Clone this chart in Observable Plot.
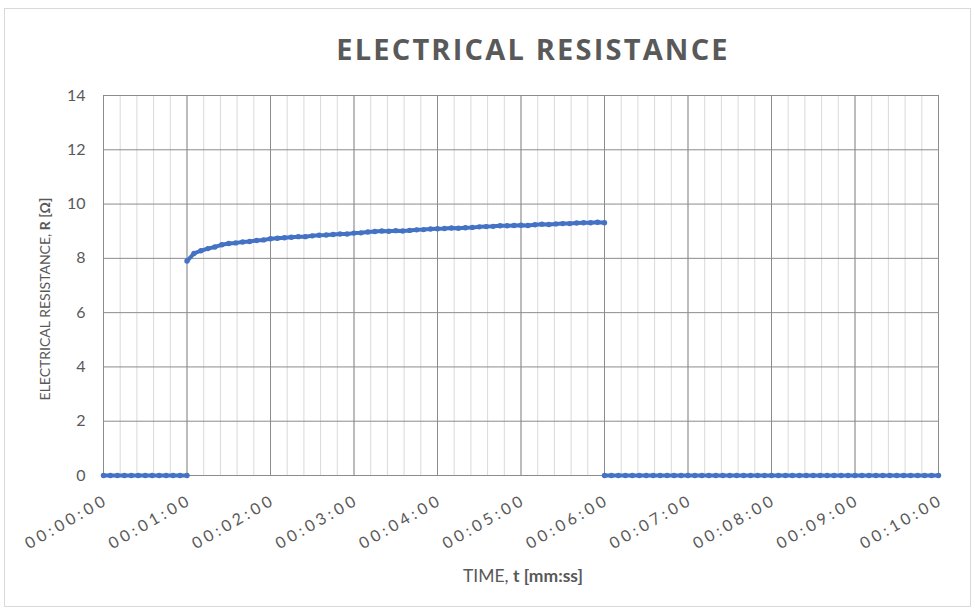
<!DOCTYPE html>
<html>
<head>
<meta charset="utf-8">
<script src="https://cdn.jsdelivr.net/npm/d3@7"></script>
<script src="https://cdn.jsdelivr.net/npm/@observablehq/plot@0.6"></script>
<style>
  body { margin: 0; background: #fff; }
  #wrap { position: relative; width: 975px; height: 608px; overflow: hidden; }
</style>
</head>
<body>
<div id="wrap"></div>
<script>
// ---- data (time in seconds, resistance in ohms) ----
const titleText = "ELECTRICAL RESISTANCE";
const yLabelNormal = "ELECTRICAL RESISTANCE, ";
const yLabelBold = "R [Ω]";
const xLabelNormal = "TIME, ";
const xLabelBold = "t [mm:ss]";

const xTickValues = [0, 60, 120, 180, 240, 300, 360, 420, 480, 540, 600];
const xTickLabels = ["00:00:00", "00:01:00", "00:02:00", "00:03:00", "00:04:00", "00:05:00",
                     "00:06:00", "00:07:00", "00:08:00", "00:09:00", "00:10:00"];
const yTickValues = [0, 2, 4, 6, 8, 10, 12, 14];

const zeroBeforeTimes = [0, 5, 10, 15, 20, 25, 30, 35, 40, 45, 50, 55, 60];
const zeroBeforeValues = [0, 0, 0, 0, 0, 0, 0, 0, 0, 0, 0, 0, 0];

const riseTimes = [60, 65, 70, 75, 80, 85, 90, 95, 100, 105,
                   110, 115, 120, 125, 130, 135, 140, 145, 150, 155,
                   160, 165, 170, 175, 180, 185, 190, 195, 200, 205,
                   210, 215, 220, 225, 230, 235, 240, 245, 250, 255,
                   260, 265, 270, 275, 280, 285, 290, 295, 300, 305,
                   310, 315, 320, 325, 330, 335, 340, 345, 350, 355,
                   360];
const riseValues = [7.90, 8.18, 8.28, 8.36, 8.42, 8.50, 8.55, 8.57, 8.60, 8.62,
                    8.66, 8.68, 8.72, 8.74, 8.76, 8.78, 8.80, 8.80, 8.83, 8.85,
                    8.86, 8.88, 8.90, 8.90, 8.93, 8.94, 8.97, 8.99, 9.01, 9.00,
                    9.02, 9.01, 9.03, 9.05, 9.06, 9.08, 9.09, 9.10, 9.12, 9.11,
                    9.13, 9.14, 9.16, 9.17, 9.18, 9.20, 9.20, 9.21, 9.22, 9.21,
                    9.24, 9.26, 9.25, 9.27, 9.28, 9.28, 9.30, 9.31, 9.31, 9.33,
                    9.31];

const zeroAfterTimes = [360, 365, 370, 375, 380, 385, 390, 395, 400, 405,
                        410, 415, 420, 425, 430, 435, 440, 445, 450, 455,
                        460, 465, 470, 475, 480, 485, 490, 495, 500, 505,
                        510, 515, 520, 525, 530, 535, 540, 545, 550, 555,
                        560, 565, 570, 575, 580, 585, 590, 595, 600];
const zeroAfterValues = [0, 0, 0, 0, 0, 0, 0, 0, 0, 0,
                         0, 0, 0, 0, 0, 0, 0, 0, 0, 0,
                         0, 0, 0, 0, 0, 0, 0, 0, 0, 0,
                         0, 0, 0, 0, 0, 0, 0, 0, 0, 0,
                         0, 0, 0, 0, 0, 0, 0, 0, 0];

// ---- build table ----
const data = [];
zeroBeforeTimes.forEach((t, i) => data.push({t, r: zeroBeforeValues[i], seg: "a"}));
riseTimes.forEach((t, i) => data.push({t, r: riseValues[i], seg: "b"}));
zeroAfterTimes.forEach((t, i) => data.push({t, r: zeroAfterValues[i], seg: "c"}));

const minorTicks = d3.range(0, 601, 12);
const blue = "#4472C4";
const textColor = "#595959";
const tickLetterSpacing = 3.7;

const chart = Plot.plot({
  width: 975,
  height: 608,
  marginLeft: 103,
  marginRight: 37,
  marginTop: 95,
  marginBottom: 133,
  style: { fontFamily: "Lato, sans-serif", fontSize: "16px", color: textColor, background: "white", overflow: "visible" },
  x: { domain: [0, 600], axis: null },
  y: { domain: [0, 14], ticks: yTickValues, tickSize: 0, tickPadding: 18, label: null, tickFormat: d => String(d) },
  marks: [
    Plot.ruleX(minorTicks, { x: d => d, stroke: "#d9d9d9", strokeWidth: 1 }),
    Plot.ruleX(xTickValues, { x: d => d, stroke: "#8c8c8c", strokeWidth: 1 }),
    Plot.ruleY(yTickValues, { y: d => d, stroke: "#8c8c8c", strokeWidth: 1 }),
    Plot.line(data, { x: "t", y: "r", z: "seg", stroke: blue, strokeWidth: 4 }),
    Plot.dot(data, { x: "t", y: "r", r: 2.7, fill: blue, stroke: "none" }),
    Plot.text(xTickValues, {
      x: d => d,
      text: (d, i) => xTickLabels[i],
      frameAnchor: "bottom",
      rotate: -30,
      textAnchor: "end",
      lineAnchor: "middle",
      dx: 0 + tickLetterSpacing,
      dy: 23,
      fontSize: 16,
      fill: textColor
    })
  ]
});

document.getElementById("wrap").appendChild(chart);

const svg = d3.select(chart);
svg.selectAll("text")
  .filter(function () { return /^\d\d:\d\d:\d\d$/.test(this.textContent); })
  .attr("letter-spacing", tickLetterSpacing)
  .style("letter-spacing", tickLetterSpacing + "px");

// outer frame
svg.insert("rect", ":first-child")
  .attr("x", 4.5).attr("y", 8.5).attr("width", 966).attr("height", 598)
  .attr("fill", "white").attr("stroke", "#d9d9d9");

// title
svg.append("text")
  .attr("x", 533).attr("y", 60)
  .attr("text-anchor", "middle")
  .attr("font-family", "'Open Sans', sans-serif")
  .attr("font-weight", 700)
  .attr("font-size", 29)
  .attr("letter-spacing", 2.2)
  .style("letter-spacing", "2.2px")
  .attr("fill", textColor)
  .text(titleText);

// y label
const yl = svg.append("text")
  .attr("transform", "translate(50,299) rotate(-90)")
  .attr("text-anchor", "middle")
  .attr("font-family", "Lato, sans-serif")
  .attr("font-size", 14)
  .attr("fill", textColor);
yl.append("tspan").text(yLabelNormal);
yl.append("tspan").attr("font-weight", 700).text(yLabelBold);

// x label
const xl = svg.append("text")
  .attr("x", 523).attr("y", 582)
  .attr("text-anchor", "middle")
  .attr("font-family", "Lato, sans-serif")
  .attr("font-size", 17.5)
  .attr("fill", textColor);
xl.append("tspan").text(xLabelNormal);
xl.append("tspan").attr("font-weight", 700).text(xLabelBold);
</script>
</body>
</html>
